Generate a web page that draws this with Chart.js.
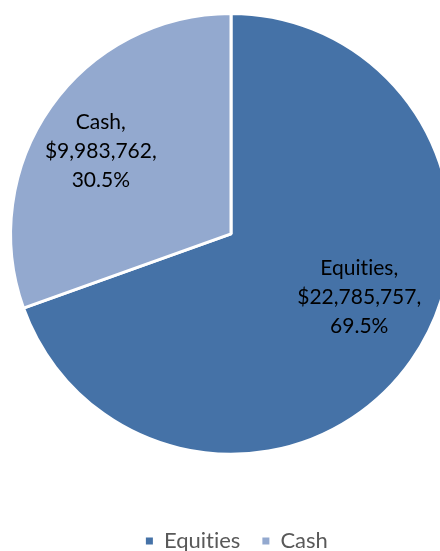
<!DOCTYPE html>
<html>
<head>
<meta charset="utf-8">
<script src="https://cdn.jsdelivr.net/npm/chart.js@4.4.1/dist/chart.umd.min.js"></script>
<style>
    html, body { margin: 0; padding: 0; background: #fff; overflow: hidden; }
    #wrap { position: absolute; left: 0; top: 0; width: 462px; height: 562px; }
</style>
</head>
<body>
<div id="wrap"><canvas id="myChart" width="462" height="562"></canvas></div>
<script>
var categories = ['Equities', 'Cash'];
var amounts = [22785757, 9983762];
var sliceColors = ['#4572A7', '#93A9CF'];

function money(v) {
    return '$' + v.toLocaleString('en-US');
}

// Lato joins "ti" into a ligature, a tiny letter spacing switches that off
var noLigatures = {
    id: 'noLigatures',
    beforeDraw: function (chart) {
        chart.ctx.letterSpacing = '0.01px';
    }
};

// nudge the legend a little to the right, like the original
var legendShift = {
    id: 'legendShift',
    afterLayout: function (chart) {
        chart.legend.left += 6;
        chart.legend.right += 6;
    }
};

// labels drawn inside each slice: name, amount, percent
var sliceLabels = {
    id: 'sliceLabels',
    afterDatasetsDraw: function (chart, args, opts) {
        var ctx = chart.ctx;
        var meta = chart.getDatasetMeta(0);
        var data = chart.data.datasets[0].data;
        var total = data.reduce(function (a, b) { return a + b; }, 0);
        ctx.save();
        ctx.font = '21px Lato';
        ctx.fillStyle = '#000';
        ctx.textAlign = 'center';
        ctx.textBaseline = 'middle';
        meta.data.forEach(function (arc, i) {
            var p = arc.getProps(['x', 'y', 'startAngle', 'endAngle', 'outerRadius'], true);
            var a = (p.startAngle + p.endAngle) / 2 + opts.angleShift[i] * Math.PI / 180;
            var r = p.outerRadius * opts.radius[i];
            var cx = p.x + Math.cos(a) * r;
            var cy = p.y + Math.sin(a) * r;
            var lines = [
                chart.data.labels[i] + ',',
                money(data[i]) + ',',
                (data[i] / total * 100).toFixed(1) + '%'
            ];
            lines.forEach(function (t, k) {
                ctx.fillText(t, cx, cy + (k - 1) * 29);
            });
        });
        ctx.restore();
    }
};

var ctx = document.getElementById('myChart').getContext('2d');
var myChart = new Chart(ctx, {
    type: 'pie',
    data: {
        labels: categories,
        datasets: [{
            data: amounts,
            backgroundColor: sliceColors,
            borderColor: '#ffffff',
            borderWidth: 3,
            hoverOffset: 0
        }]
    },
    options: {
        responsive: false,
        animation: false,
        layout: { padding: { top: 12, left: 9, right: 9, bottom: 0 } },
        plugins: {
            tooltip: { enabled: false },
            legend: {
                position: 'bottom',
                title: { display: true, text: ' ', font: { size: 1 }, padding: { top: 51, bottom: 0 } },
                labels: {
                    boxWidth: 7,
                    boxHeight: 7,
                    padding: 22,
                    color: '#595959',
                    font: { family: 'Lato', size: 22 },
                    generateLabels: function (chart) {
                        var items = Chart.controllers.pie.overrides.plugins.legend.labels.generateLabels(chart);
                        items.forEach(function (it) {
                            it.lineWidth = 0;
                            it.strokeStyle = 'rgba(0,0,0,0)';
                        });
                        return items;
                    }
                }
            },
            sliceLabels: {
                angleShift: [-8.7, -2.7],
                radius: [0.65, 0.70]
            }
        }
    },
    plugins: [noLigatures, legendShift, sliceLabels]
});
</script>
</body>
</html>
